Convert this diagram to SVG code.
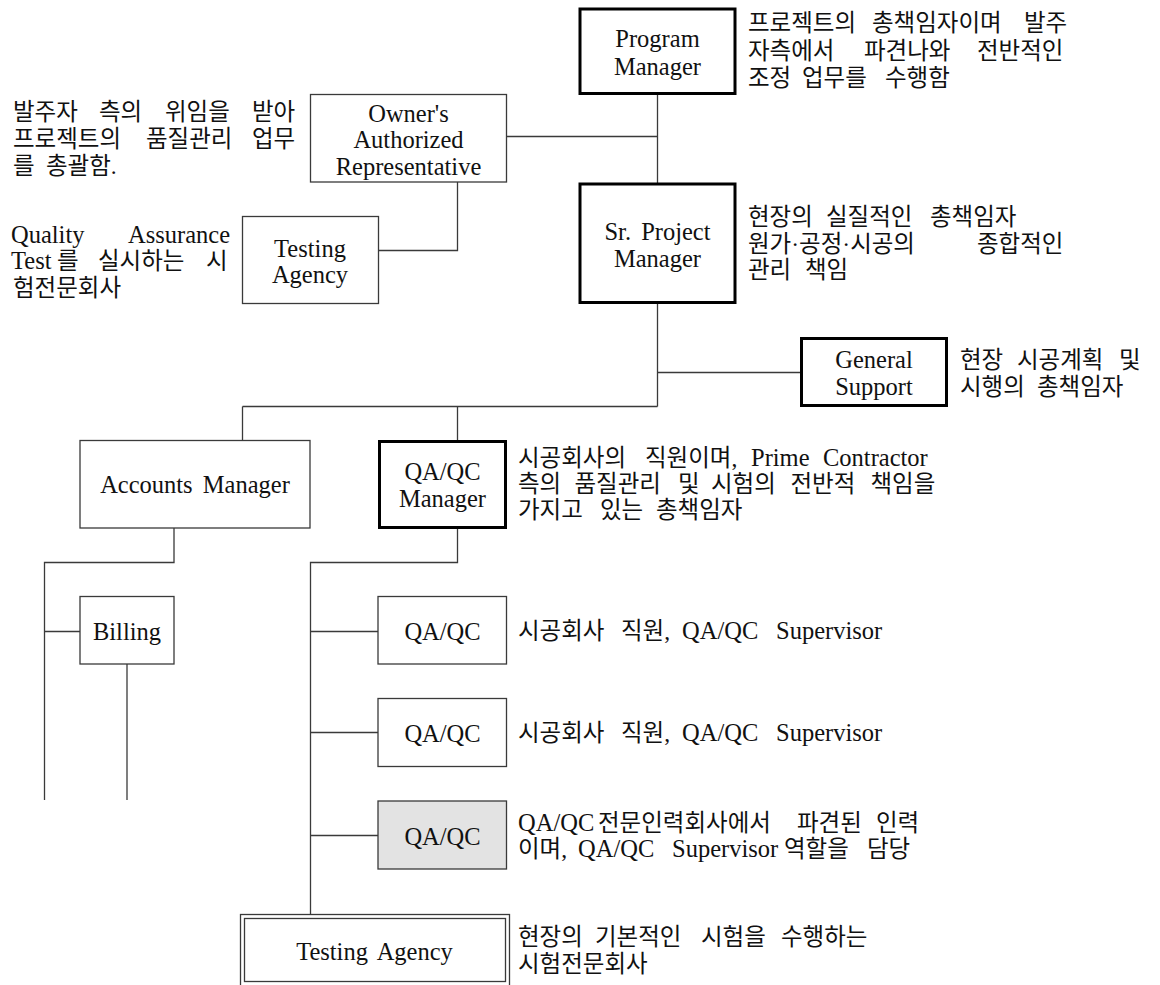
<svg xmlns="http://www.w3.org/2000/svg" width="1160" height="985" viewBox="0 0 1160 985">
<style>
.thin{fill:#fff;stroke:#3a3a3a;stroke-width:1.3}
.thick{fill:#fff;stroke:#000;stroke-width:3}
.gray{fill:#e3e3e3;stroke:#3a3a3a;stroke-width:1.3}
.lbl{font-family:"Liberation Serif",serif;font-size:24.5px;fill:#111;text-anchor:middle;word-spacing:4px}
.d{font-family:"Liberation Serif","Noto Sans CJK KR",sans-serif;font-size:23.5px;fill:#111}
.lat{font-family:"Liberation Serif",serif;font-size:24.5px}
#connectors path{fill:none;stroke:#3a3a3a;stroke-width:1.3}
</style>
<rect width="1160" height="985" fill="#fff"/>
<g id="connectors">
<path d="M657.5 95V184"/>
<path d="M507 136.5H657.5"/>
<path d="M457.5 182V250.5H378"/>
<path d="M657.5 304V406.5"/>
<path d="M657.5 372.5H800"/>
<path d="M242.5 406.5H657.5"/>
<path d="M242.5 406.5V440"/>
<path d="M457.5 406.5V440"/>
<path d="M174 528V562.5H44.5V800"/>
<path d="M44.5 631.5H80"/>
<path d="M127 664V800"/>
<path d="M457.5 529V562.5H310.5V914"/>
<path d="M310.5 631.5H378"/>
<path d="M310.5 732.5H378"/>
<path d="M310.5 835.5H378"/>
</g>
<g id="program-manager">
<rect class="thick" x="580" y="9" width="155" height="84.5"/>
<text class="lbl" x="657.5" y="47">Program</text>
<text class="lbl" x="657.5" y="75">Manager</text>
<text class="d" y="31"><tspan x="748">프로젝트의</tspan><tspan x="872">총책임자이며</tspan><tspan x="1024">발주</tspan></text>
<text class="d" y="58.5"><tspan x="748">자측에서</tspan><tspan x="864">파견나와</tspan><tspan x="977">전반적인</tspan></text>
<text class="d" y="86"><tspan x="748">조정</tspan><tspan x="802">업무를</tspan><tspan x="885">수행함</tspan></text>
</g>
<g id="owner-rep">
<rect class="thin" x="310.5" y="94.5" width="196" height="87.5"/>
<text class="lbl" x="408.5" y="122">Owner's</text>
<text class="lbl" x="408.5" y="148">Authorized</text>
<text class="lbl" x="408.5" y="175">Representative</text>
<text class="d" y="120"><tspan x="13">발주자</tspan><tspan x="99">측의</tspan><tspan x="165">위임을</tspan><tspan x="252">받아</tspan></text>
<text class="d" y="147"><tspan x="13">프로젝트의</tspan><tspan x="146">품질관리</tspan><tspan x="252">업무</tspan></text>
<text class="d" y="174"><tspan x="13">를</tspan><tspan x="46">총괄함.</tspan></text>
</g>
<g id="testing-agency-owner">
<rect class="thin" x="242.5" y="216.5" width="136" height="87"/>
<text class="lbl" x="310" y="257">Testing</text>
<text class="lbl" x="310" y="283">Agency</text>
<text class="d" y="243"><tspan class="lat" x="11">Quality</tspan><tspan class="lat" x="128">Assurance</tspan></text>
<text class="d" y="269"><tspan class="lat" x="11">Test</tspan><tspan x="57">를</tspan><tspan x="98">실시하는</tspan><tspan x="206">시</tspan></text>
<text class="d" y="296"><tspan x="13">험전문회사</tspan></text>
</g>
<g id="sr-project-manager">
<rect class="thick" x="580" y="184" width="155" height="118.5"/>
<text class="lbl" x="657.5" y="240">Sr. Project</text>
<text class="lbl" x="657.5" y="267">Manager</text>
<text class="d" y="225"><tspan x="748">현장의</tspan><tspan x="826">실질적인</tspan><tspan x="930">총책임자</tspan></text>
<text class="d" y="251.5"><tspan x="748">원가·공정·시공의</tspan><tspan x="977">종합적인</tspan></text>
<text class="d" y="278"><tspan x="748">관리</tspan><tspan x="805">책임</tspan></text>
</g>
<g id="general-support">
<rect class="thick" x="801.5" y="338.5" width="145" height="67"/>
<text class="lbl" x="874" y="368">General</text>
<text class="lbl" x="874" y="395">Support</text>
<text class="d" y="368"><tspan x="960">현장</tspan><tspan x="1017">시공계획</tspan><tspan x="1119">및</tspan></text>
<text class="d" y="395"><tspan x="960">시행의</tspan><tspan x="1037">총책임자</tspan></text>
</g>
<g id="accounts-manager">
<rect class="thin" x="80" y="440.5" width="230" height="87.5"/>
<text class="lbl" x="195" y="493">Accounts Manager</text>
</g>
<g id="qaqc-manager">
<rect class="thick" x="379.5" y="441.5" width="126" height="86"/>
<text class="lbl" x="442.5" y="480">QA/QC</text>
<text class="lbl" x="442.5" y="507">Manager</text>
<text class="d" y="466"><tspan x="518">시공회사의</tspan><tspan x="645">직원이며,</tspan><tspan class="lat" x="751">Prime</tspan><tspan class="lat" x="823">Contractor</tspan></text>
<text class="d" y="492"><tspan x="518">측의</tspan><tspan x="574.5">품질관리</tspan><tspan x="678">및</tspan><tspan x="711">시험의</tspan><tspan x="790.5">전반적</tspan><tspan x="870.5">책임을</tspan></text>
<text class="d" y="518"><tspan x="518">가지고</tspan><tspan x="600">있는</tspan><tspan x="656">총책임자</tspan></text>
</g>
<g id="billing">
<rect class="thin" x="80" y="596.5" width="94" height="67.5"/>
<text class="lbl" x="127" y="640">Billing</text>
</g>
<g id="qaqc-1">
<rect class="thin" x="378" y="596.5" width="128.5" height="67.5"/>
<text class="lbl" x="442.5" y="640">QA/QC</text>
<text class="d" y="639"><tspan x="518">시공회사</tspan><tspan x="621">직원,</tspan><tspan class="lat" x="682">QA/QC</tspan><tspan class="lat" x="776">Supervisor</tspan></text>
</g>
<g id="qaqc-2">
<rect class="thin" x="378" y="698.5" width="128.5" height="68"/>
<text class="lbl" x="442.5" y="742">QA/QC</text>
<text class="d" y="741"><tspan x="518">시공회사</tspan><tspan x="621">직원,</tspan><tspan class="lat" x="682">QA/QC</tspan><tspan class="lat" x="776">Supervisor</tspan></text>
</g>
<g id="qaqc-3">
<rect class="gray" x="378" y="801" width="128.5" height="68"/>
<text class="lbl" x="442.5" y="845">QA/QC</text>
<text class="d" y="831"><tspan class="lat" x="518">QA/QC</tspan><tspan x="598">전문인력회사에서</tspan><tspan x="797">파견된</tspan><tspan x="876">인력</tspan></text>
<text class="d" y="857"><tspan x="518">이며,</tspan><tspan class="lat" x="578">QA/QC</tspan><tspan class="lat" x="672">Supervisor</tspan><tspan x="784">역할을</tspan><tspan x="867">담당</tspan></text>
</g>
<g id="testing-agency">
<rect class="thin" x="240.5" y="914.5" width="269" height="75"/>
<rect class="thin" x="244.5" y="918.5" width="261" height="63"/>
<text class="lbl" x="374.5" y="960">Testing Agency</text>
<text class="d" y="945"><tspan x="518">현장의</tspan><tspan x="595">기본적인</tspan><tspan x="701">시험을</tspan><tspan x="781">수행하는</tspan></text>
<text class="d" y="972"><tspan x="518">시험전문회사</tspan></text>
</g>
</svg>
